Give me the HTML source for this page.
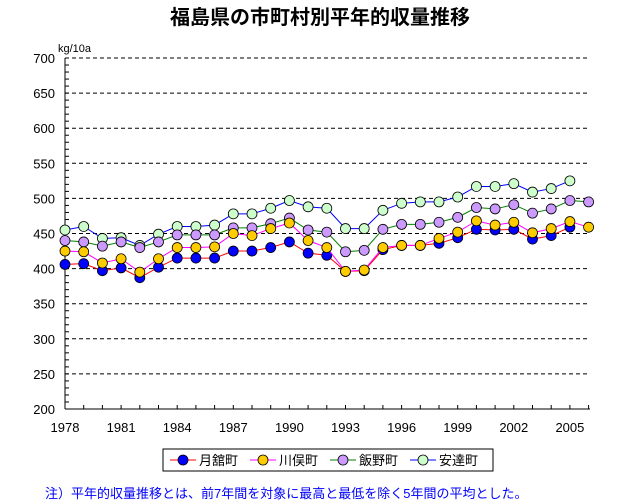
<!DOCTYPE html>
<html><head><meta charset="utf-8"><style>
body{margin:0;background:#fff;}
svg{display:block;font-family:"Liberation Sans","Noto Sans CJK JP",sans-serif;}
</style></head><body>
<svg id="c" width="640" height="504">
<text x="320" y="24" text-anchor="middle" font-size="20" font-weight="bold">福島県の市町村別平年的収量推移</text>
<text x="58" y="52" font-size="11">kg/10a</text>
<g id="grid"></g><g id="axes"></g><g id="series"></g>
<g>
<rect x="163" y="449" width="330" height="22" fill="#fff" stroke="#000"/>
<g id="legend"></g>
</g>
<text x="45" y="498" font-size="13" fill="#0000ff">注）平年的収量推移とは、前7年間を対象に最高と最低を除く5年間の平均とした。</text>
</svg>
<script>
const years=[1978,1979,1980,1981,1982,1983,1984,1985,1986,1987,1988,1989,1990,1991,1992,1993,1994,1995,1996,1997,1998,1999,2000,2001,2002,2003,2004,2005,2006];
const tsukidate=[406,407,397,401,387,402,415,415,415,425,425,430,438,422,419,396,397,427,433,433,436,444,456,455,456,442,447,459,null];
const kawamata=[425,424,408,414,395,414,430,430,431,450,447,457,465,440,430,396,398,430,433,433,443,452,468,462,466,451,457,467,459];
const iino=[440,438,432,438,430,438,448,448,448,458,458,464,472,455,452,424,426,456,463,463,466,473,487,485,491,479,485,497,495];
const adachi=[455,460,443,444,433,449,460,460,462,478,478,486,497,488,486,457,457,483,493,495,495,502,517,517,521,509,514,525,null];
const yTicks=[200,250,300,350,400,450,500,550,600,650,700];
const xTickYears=[1978,1981,1984,1987,1990,1993,1996,1999,2002,2005];
const seriesNames=["月舘町","川俣町","飯野町","安達町"];
const NS="http://www.w3.org/2000/svg";
const X=y=>65+(y-1978)*18.7;
const Y=v=>409-(v-200)*0.702;
function mk(t,a,p){const e=document.createElementNS(NS,t);for(const k in a)e.setAttribute(k,a[k]);p.appendChild(e);return e;}
const grid=document.getElementById('grid'),axes=document.getElementById('axes'),ser=document.getElementById('series'),leg=document.getElementById('legend');
yTicks.forEach(v=>{
 if(v>200){const l=mk('line',{x1:65,x2:590,y1:Y(v),y2:Y(v),stroke:'#000','stroke-dasharray':'4,3'},grid);
 
 }
 const t=mk('text',{x:55,y:Y(v)+5,'text-anchor':'end','font-size':13},axes);t.textContent=v;
 
 
});
for(let v=200;v<=700;v+=10){mk('line',{x1:65,x2:69,y1:Y(v),y2:Y(v),stroke:'#000'},axes);}
years.forEach(y=>{mk('line',{x1:X(y),x2:X(y),y1:409,y2:405,stroke:'#000'},axes);});
xTickYears.forEach(y=>{const t=mk('text',{x:X(y),y:432,'text-anchor':'middle','font-size':13},axes);t.textContent=y;
 
 });
const ya=mk('line',{x1:65,x2:65,y1:58,y2:409,stroke:'#000'},axes);


const xa=mk('line',{x1:65,x2:590,y1:409,y2:409,stroke:'#000'},axes);


const data=[tsukidate,kawamata,iino,adachi];
const lineCol=['#ff0000','#ff00ff','#008000','#0000ff'];
const markCol=['#0000ff','#ffcc00','#cc99ff','#ccffcc'];
[3,2,0,1].forEach(i=>{
 const g=mk('g',{},ser);
 
 
 const pts=[];data[i].forEach((v,j)=>{if(v!=null)pts.push(X(years[j])+','+Y(v));});
 mk('polyline',{points:pts.join(' '),fill:'none',stroke:lineCol[i],'stroke-width':1},g);
 data[i].forEach((v,j)=>{if(v==null)return;
  const c=mk('circle',{cx:X(years[j]),cy:Y(v),r:5,fill:markCol[i],stroke:'#000','stroke-width':0.8},g);
  
  });
});
seriesNames.forEach((n,i)=>{
 const x0=170+i*80;
 const g=mk('g',{},leg);
 
 
 mk('line',{x1:x0,x2:x0+26,y1:460,y2:460,stroke:lineCol[i]},g);
 mk('circle',{cx:x0+13,cy:460,r:5,fill:markCol[i],stroke:'#000','stroke-width':0.8},g);
 const t=mk('text',{x:x0+29,y:465,'font-size':13},g);t.textContent=n;
});
</script>
</body></html>
